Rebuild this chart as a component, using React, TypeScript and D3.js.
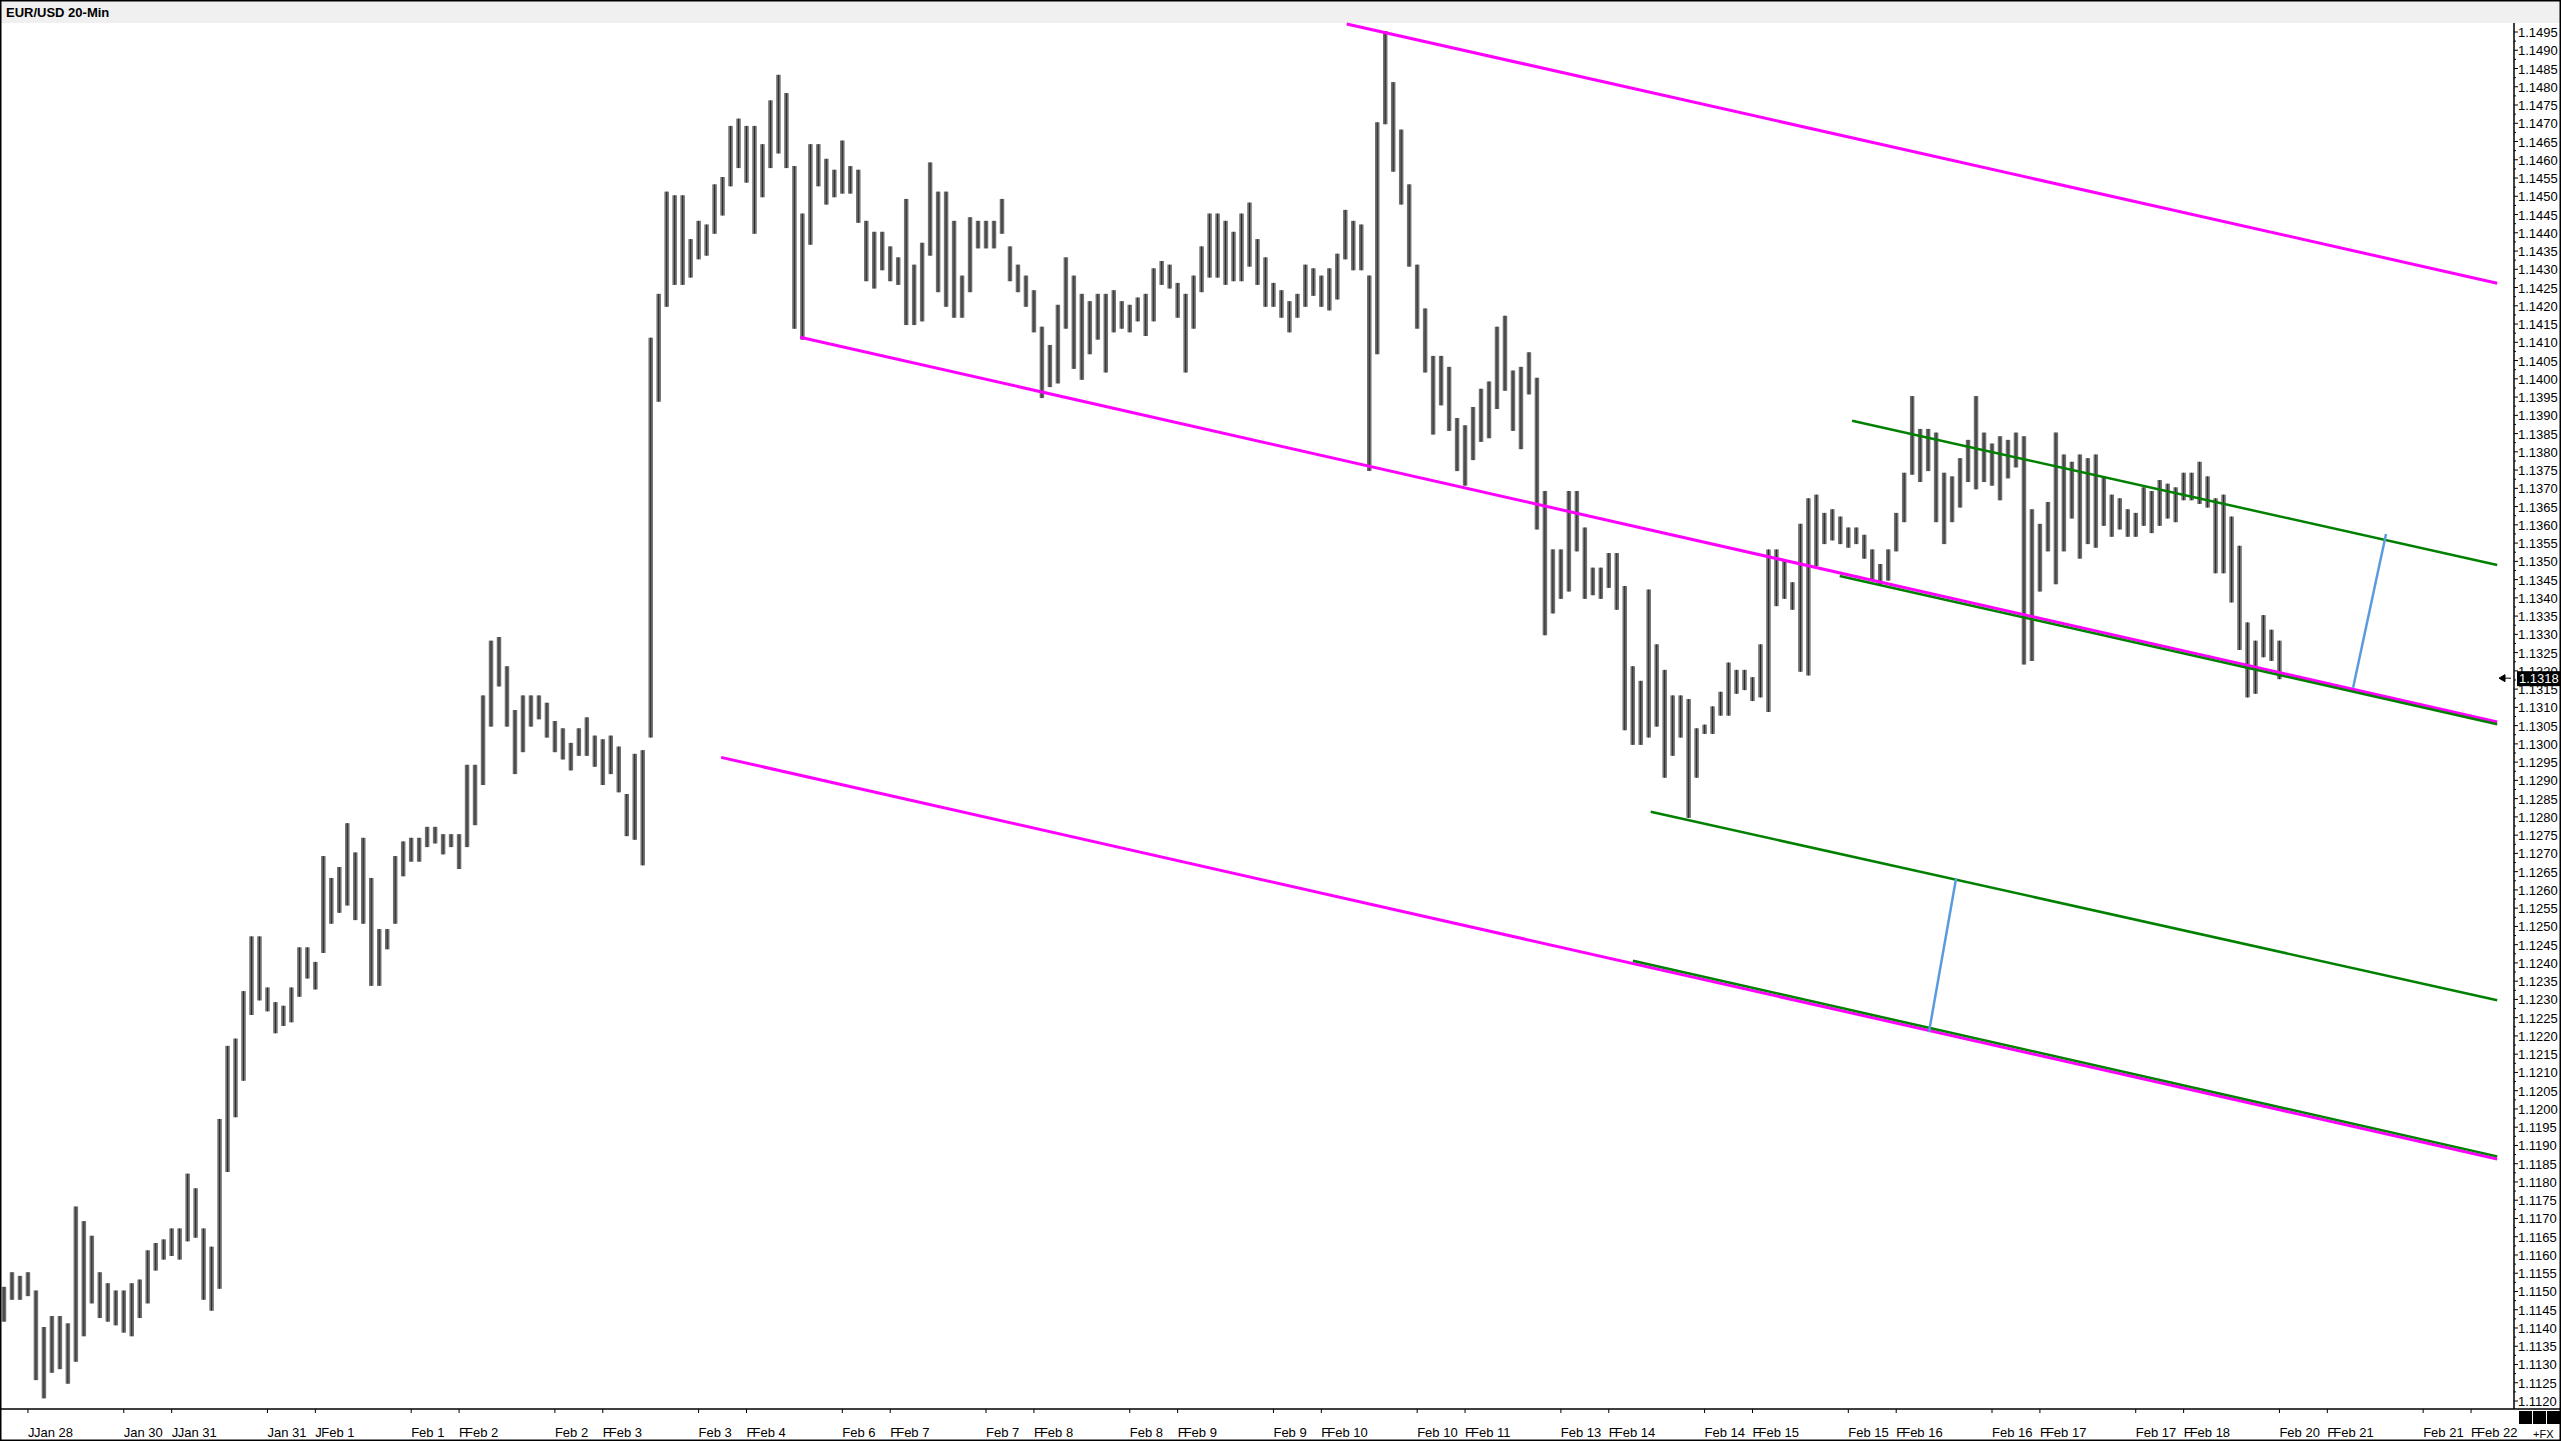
import React from "react";
import * as d3 from "d3";

// EUR/USD 20-min bars, each point below = high/low of 4 consecutive bars
const title = "EUR/USD 20-Min";
const barsPerPoint = 4;

const highs = [
  1.1151, 1.1155, 1.1154, 1.1155, 1.1150, 1.1140, 1.1143, 1.1143, 1.1141, 1.1173,
  1.1169, 1.1165, 1.1155, 1.1152, 1.1150, 1.1150, 1.1152, 1.1153, 1.1161, 1.1163,
  1.1164, 1.1167, 1.1167, 1.1182, 1.1178, 1.1167, 1.1162, 1.1197, 1.1217, 1.1219,
  1.1232, 1.1247, 1.1247, 1.1233, 1.1229, 1.1228, 1.1233, 1.1244, 1.1244, 1.1240,
  1.1269, 1.1263, 1.1266, 1.1278, 1.1270, 1.1274, 1.1263, 1.1249, 1.1249, 1.1269,
  1.1273, 1.1274, 1.1274, 1.1277, 1.1277, 1.1275, 1.1275, 1.1275, 1.1294, 1.1294,
  1.1313, 1.1328, 1.1329, 1.1321, 1.1309, 1.1313, 1.1313, 1.1313, 1.1311, 1.1306,
  1.1304, 1.1300, 1.1304, 1.1307, 1.1302, 1.1301, 1.1302, 1.1299, 1.1286, 1.1297,
  1.1298, 1.1411, 1.1423, 1.1451, 1.1450, 1.1450, 1.1438, 1.1443, 1.1442, 1.1453,
  1.1455, 1.1469, 1.1471, 1.1469, 1.1469, 1.1464, 1.1476, 1.1483, 1.1478, 1.1458,
  1.1445, 1.1464, 1.1464, 1.1460, 1.1457, 1.1465, 1.1458, 1.1457, 1.1443, 1.1440,
  1.1440, 1.1436, 1.1433, 1.1449, 1.1431, 1.1437, 1.1459, 1.1451, 1.1451, 1.1443,
  1.1428, 1.1444, 1.1443, 1.1443, 1.1443, 1.1449, 1.1436, 1.1431, 1.1428, 1.1424,
  1.1414, 1.1409, 1.1420, 1.1433, 1.1428, 1.1423, 1.1421, 1.1423, 1.1423, 1.1424,
  1.1421, 1.1420, 1.1422, 1.1423, 1.1430, 1.1432, 1.1431, 1.1426, 1.1423, 1.1428,
  1.1436, 1.1445, 1.1445, 1.1443, 1.1440, 1.1445, 1.1448, 1.1438, 1.1433, 1.1426,
  1.1424, 1.1421, 1.1423, 1.1431, 1.1430, 1.1428, 1.1430, 1.1434, 1.1446, 1.1443,
  1.1442, 1.1428, 1.1470, 1.1495, 1.1481, 1.1468, 1.1453, 1.1431, 1.1419, 1.1406,
  1.1406, 1.1403, 1.1389, 1.1387, 1.1392, 1.1397, 1.1399, 1.1414, 1.1417, 1.1402,
  1.1403, 1.1407, 1.1400, 1.1369, 1.1353, 1.1353, 1.1369, 1.1369, 1.1359, 1.1348,
  1.1348, 1.1352, 1.1352, 1.1343, 1.1321, 1.1317, 1.1342, 1.1327, 1.1320, 1.1313,
  1.1313, 1.1312, 1.1304, 1.1305, 1.1310, 1.1314, 1.1322, 1.1320, 1.1320, 1.1318,
  1.1327, 1.1353, 1.1353, 1.1350, 1.1344, 1.1360, 1.1367, 1.1368, 1.1363, 1.1364,
  1.1362, 1.1359, 1.1359, 1.1357, 1.1353, 1.1349, 1.1353, 1.1363, 1.1374, 1.1395,
  1.1386, 1.1386, 1.1385, 1.1374, 1.1373, 1.1378, 1.1383, 1.1395, 1.1385, 1.1382,
  1.1384, 1.1383, 1.1385, 1.1384, 1.1364, 1.1360, 1.1366, 1.1385, 1.1379, 1.1377,
  1.1379, 1.1378, 1.1379, 1.1373, 1.1368, 1.1367, 1.1364, 1.1363, 1.1370, 1.1369,
  1.1372, 1.1371, 1.1370, 1.1374, 1.1374, 1.1377, 1.1373, 1.1367, 1.1368, 1.1362,
  1.1354, 1.1333, 1.1328, 1.1335, 1.1331, 1.1328,
];

const lows = [
  1.1142, 1.1148, 1.1148, 1.1149, 1.1126, 1.1121, 1.1128, 1.1129, 1.1125, 1.1131,
  1.1138, 1.1147, 1.1143, 1.1142, 1.1141, 1.1139, 1.1138, 1.1143, 1.1147, 1.1156,
  1.1159, 1.1160, 1.1159, 1.1164, 1.1165, 1.1148, 1.1145, 1.1151, 1.1183, 1.1198,
  1.1208, 1.1226, 1.1230, 1.1227, 1.1221, 1.1223, 1.1224, 1.1231, 1.1236, 1.1233,
  1.1243, 1.1251, 1.1254, 1.1256, 1.1252, 1.1251, 1.1234, 1.1234, 1.1244, 1.1251,
  1.1264, 1.1268, 1.1268, 1.1272, 1.1273, 1.1270, 1.1272, 1.1266, 1.1272, 1.1278,
  1.1289, 1.1305, 1.1316, 1.1305, 1.1292, 1.1298, 1.1305, 1.1307, 1.1302, 1.1298,
  1.1296, 1.1293, 1.1297, 1.1297, 1.1294, 1.1289, 1.1292, 1.1287, 1.1275, 1.1274,
  1.1267, 1.1302, 1.1394, 1.1420, 1.1426, 1.1426, 1.1428, 1.1433, 1.1434, 1.1440,
  1.1445, 1.1453, 1.1458, 1.1454, 1.1440, 1.1450, 1.1458, 1.1462, 1.1458, 1.1414,
  1.1411, 1.1437, 1.1453, 1.1448, 1.1450, 1.1451, 1.1451, 1.1443, 1.1427, 1.1425,
  1.1430, 1.1427, 1.1426, 1.1415, 1.1415, 1.1416, 1.1434, 1.1424, 1.1420, 1.1417,
  1.1417, 1.1424, 1.1436, 1.1436, 1.1436, 1.1440, 1.1427, 1.1424, 1.1420, 1.1413,
  1.1395, 1.1398, 1.1399, 1.1414, 1.1403, 1.1400, 1.1407, 1.1411, 1.1402, 1.1413,
  1.1414, 1.1413, 1.1416, 1.1412, 1.1416, 1.1426, 1.1425, 1.1417, 1.1402, 1.1414,
  1.1424, 1.1428, 1.1428, 1.1426, 1.1427, 1.1427, 1.1431, 1.1426, 1.1420, 1.1420,
  1.1417, 1.1413, 1.1417, 1.1420, 1.1423, 1.1420, 1.1419, 1.1422, 1.1433, 1.1430,
  1.1430, 1.1375, 1.1407, 1.1470, 1.1457, 1.1448, 1.1431, 1.1414, 1.1402, 1.1385,
  1.1393, 1.1386, 1.1375, 1.1371, 1.1378, 1.1383, 1.1384, 1.1392, 1.1397, 1.1386,
  1.1381, 1.1396, 1.1359, 1.1330, 1.1336, 1.1340, 1.1342, 1.1353, 1.1340, 1.1341,
  1.1340, 1.1343, 1.1337, 1.1304, 1.1300, 1.1300, 1.1302, 1.1305, 1.1291, 1.1297,
  1.1302, 1.1280, 1.1291, 1.1303, 1.1303, 1.1308, 1.1308, 1.1314, 1.1315, 1.1312,
  1.1313, 1.1309, 1.1338, 1.1340, 1.1337, 1.1320, 1.1319, 1.1349, 1.1355, 1.1356,
  1.1355, 1.1354, 1.1355, 1.1351, 1.1345, 1.1344, 1.1345, 1.1353, 1.1361, 1.1374,
  1.1372, 1.1375, 1.1361, 1.1355, 1.1361, 1.1365, 1.1372, 1.1370, 1.1372, 1.1371,
  1.1367, 1.1373, 1.1376, 1.1322, 1.1323, 1.1342, 1.1353, 1.1344, 1.1353, 1.1362,
  1.1351, 1.1355, 1.1354, 1.1360, 1.1357, 1.1359, 1.1357, 1.1357, 1.1360, 1.1358,
  1.1360, 1.1362, 1.1361, 1.1367, 1.1367, 1.1366, 1.1365, 1.1347, 1.1347, 1.1339,
  1.1326, 1.1313, 1.1314, 1.1324, 1.1323, 1.1318,
];

const lastPrice = 1.1318;

// date labels: first kind sits 62 bars into each 72-bar day, second kind 14 bars in
const dayLabels = [
  "Jan 30", "Jan 31", "Feb 1", "Feb 2", "Feb 3", "Feb 6", "Feb 7", "Feb 8", "Feb 9",
  "Feb 10", "Feb 13", "Feb 14", "Feb 15", "Feb 16", "Feb 17", "Feb 20", "Feb 21",
];
const sessionLabels = [
  "Jan 28", "Jan 31", "Feb 1", "Feb 2", "Feb 3", "Feb 4", "Feb 7", "Feb 8", "Feb 9",
  "Feb 10", "Feb 11", "Feb 14", "Feb 15", "Feb 16", "Feb 17", "Feb 18", "Feb 21", "Feb 22",
];
const sessionPrefix = ["J", "J", "J", "F", "F", "F", "F", "F", "F", "F", "F", "F", "F", "F", "F", "F", "F", "F"];

// drawn lines: [barIndex, price] end points
const magentaLines = [
  [[674.7, 1.14972], [1251.1, 1.14262]],
  [[400.9, 1.14114], [1251.1, 1.1306]],
  [[361.3, 1.12963], [1251.1, 1.11863]],
];
const greenLines = [
  [[927.9, 1.13885], [1251.1, 1.1349]],
  [[921.7, 1.1346], [1251.1, 1.13054]],
  [[827.0, 1.12814], [1251.1, 1.12298]],
  [[818.1, 1.12406], [1251.1, 1.1187]],
];
const blueLines = [
  [[1178.9, 1.13154], [1195.4, 1.13575]],
  [[966.4, 1.1221], [980.0, 1.12631]],
];

const W = 2561;
const H = 1441;
const axisX = 2514;
const axisY = 1409;
const font = "Arial, 'Liberation Sans', sans-serif";

export default function App() {
  const x = d3.scaleLinear().domain([0, 1251]).range([0, 2497]);
  const y = d3.scaleLinear().domain([1.112, 1.1495]).range([1401, 32]);

  const priceTicks = d3.range(0, 76).map((i) => 1.112 + i * 0.0005);
  const minorTicks = d3.range(0, 75).map((i) => 1.11225 + i * 0.0005);
  const line = d3.line<number[]>().x((d) => x(d[0])).y((d) => y(d[1]));
  const yl = y(lastPrice);

  return (
    <svg
      width={W}
      height={H}
      style={{ position: "absolute", left: 0, top: 0, display: "block", background: "#fff" }}
      fontFamily={font}
    >
      <rect x={0} y={0} width={W} height={23} fill="#f0f0f0" />
      <text x={6} y={17} fontSize={13} fontWeight="bold" fill="#000">{title}</text>

      {/* price bars */}
      <g stroke="#707070" strokeWidth={4.5}>
        {highs.map((h, i) => {
          const cx = x(i * barsPerPoint + barsPerPoint / 2);
          return <line key={i} x1={cx} x2={cx} y1={y(h) - 1} y2={y(lows[i]) + 1} />;
        })}
      </g>
      <g stroke="#2a2a2a" strokeWidth={1}>
        {highs.map((h, i) => {
          const cx = x(i * barsPerPoint + barsPerPoint / 2);
          return <line key={i} x1={cx} x2={cx} y1={y(h) - 1} y2={y(lows[i]) + 1} />;
        })}
      </g>

      {/* drawn channels */}
      <g fill="none">
        {magentaLines.map((l, i) => (
          <path key={"m" + i} d={line(l) || ""} stroke="#ff00ff" strokeWidth={3} />
        ))}
        {greenLines.map((l, i) => (
          <path key={"g" + i} d={line(l) || ""} stroke="#008000" strokeWidth={2.5} />
        ))}
        {blueLines.map((l, i) => (
          <path key={"b" + i} d={line(l) || ""} stroke="#5a9be0" strokeWidth={2.5} />
        ))}
      </g>

      {/* price axis */}
      <rect x={axisX} y={23} width={W - axisX} height={axisY - 23} fill="#fff" />
      <line x1={axisX} x2={axisX} y1={23} y2={axisY} stroke="#000" strokeWidth={1.5} />
      <g stroke="#000">
        {priceTicks.map((p, i) => (
          <line key={i} x1={axisX} x2={axisX + 4} y1={y(p)} y2={y(p)} />
        ))}
        {minorTicks.map((p, i) => (
          <line key={i} x1={axisX} x2={axisX + 2} y1={y(p)} y2={y(p)} />
        ))}
      </g>
      <g fontSize={13} fill="#000">
        {priceTicks.map((p, i) => (
          <text key={i} x={axisX + 4} y={y(p) + 5}>{p.toFixed(4)}</text>
        ))}
      </g>
      <rect x={axisX + 3} y={yl - 7} width={W - axisX - 3} height={15} fill="#000" />
      <text x={axisX + 5} y={yl + 5} fontSize={13} fill="#fff">{lastPrice.toFixed(4)}</text>
      <path d={`M${axisX - 15},${yl} l6,-3.5 v7 z M${axisX - 10},${yl} H${axisX - 3}`} stroke="#000" fill="#000" />

      {/* time axis */}
      <line x1={0} x2={W} y1={axisY} y2={axisY} stroke="#000" strokeWidth={1.5} />
      <g stroke="#000">
        {dayLabels.map((_, k) => (
          <line key={"a" + k} x1={x(62 + 72 * k)} x2={x(62 + 72 * k)} y1={axisY} y2={axisY + 4} />
        ))}
        {sessionLabels.map((_, k) => (
          <line key={"b" + k} x1={x(14 + 72 * k)} x2={x(14 + 72 * k)} y1={axisY} y2={axisY + 4} />
        ))}
      </g>
      <g fontSize={13} fill="#000">
        {dayLabels.map((s, k) => (
          <text key={"a" + k} x={x(62 + 72 * k)} y={1437}>{s}</text>
        ))}
        {sessionLabels.map((s, k) => (
          <g key={"b" + k}>
            <text x={x(14 + 72 * k)} y={1437}>{sessionPrefix[k]}</text>
            <text x={x(14 + 72 * k) + 6} y={1437}>{s}</text>
          </g>
        ))}
      </g>
      <rect x={axisX + 5} y={1411} width={13} height={13} fill="#000" />
      <rect x={axisX + 19} y={1411} width={13} height={13} fill="#000" />
      <rect x={axisX + 33} y={1411} width={13} height={13} fill="#000" />
      <text x={2533} y={1438} fontSize={11} fill="#000">+FX</text>

      <rect x={0.75} y={0.75} width={W - 1.5} height={H - 1.5} fill="none" stroke="#000" strokeWidth={1.5} />
    </svg>
  );
}
